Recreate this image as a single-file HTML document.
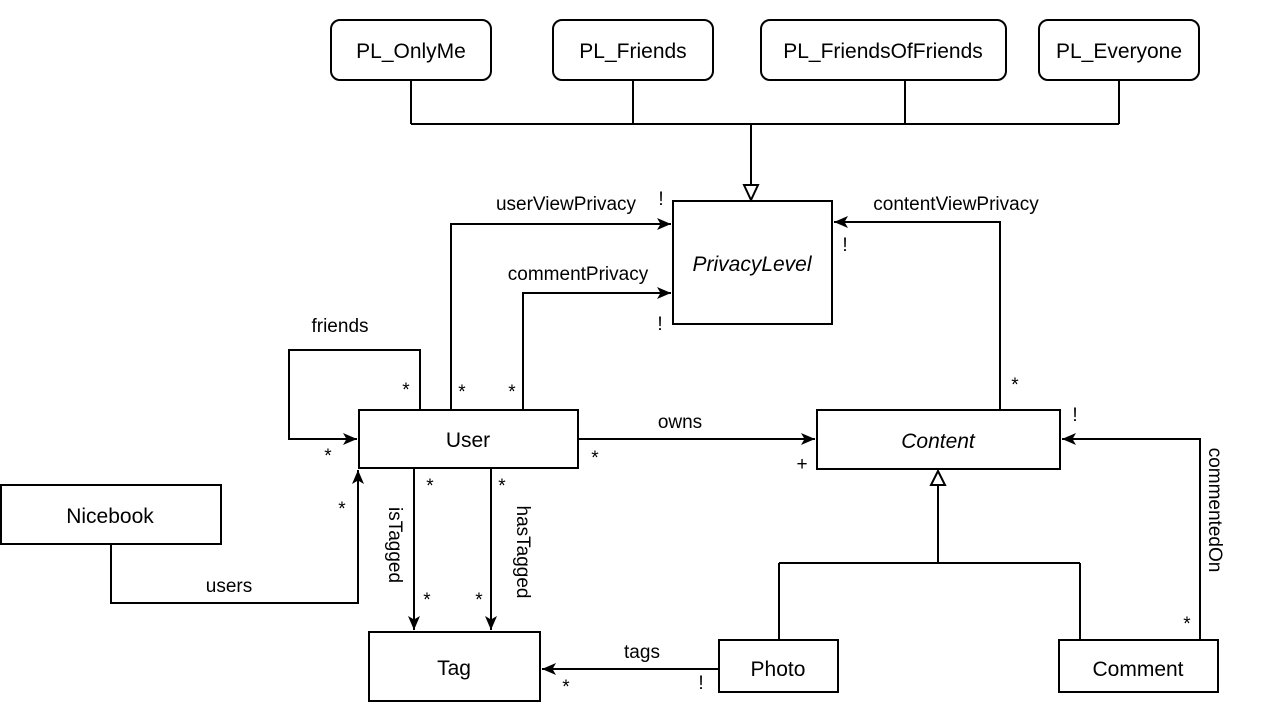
<!DOCTYPE html>
<html><head><meta charset="utf-8"><style>
html,body{margin:0;padding:0;background:#fff}
svg text{font-family:"Liberation Sans",Arial,sans-serif;fill:#000}
</style></head><body>
<svg width="1270" height="719" viewBox="0 0 1270 719" xmlns="http://www.w3.org/2000/svg">
<defs>
<marker id="a" viewBox="0 0 14 12" refX="14" refY="6" markerWidth="14" markerHeight="12" markerUnits="userSpaceOnUse" orient="auto">
<path d="M0,0 L14,6 L0,12 L3.5,6 Z" fill="#000"/></marker>
</defs>
<g fill="#fff" stroke="#000" stroke-width="2">
<rect x="331" y="20" width="160" height="60" rx="9"/>
<rect x="553" y="20" width="160" height="60" rx="9"/>
<rect x="761" y="20" width="245" height="60" rx="9"/>
<rect x="1039" y="20" width="160" height="60" rx="9"/>
<rect x="673" y="201" width="159" height="123"/>
<rect x="359" y="410" width="219" height="58"/>
<rect x="817" y="410" width="243" height="59"/>
<rect x="1" y="485" width="220" height="59"/>
<rect x="369" y="632" width="171" height="69"/>
<rect x="719" y="640" width="119" height="52"/>
<rect x="1059" y="640" width="159" height="52"/>
</g>
<g fill="none" stroke="#000" stroke-width="2">
<path d="M411,80V124M633,80V124M905,80V124M1119,80V124M411,124H1119M751,124V185"/>
<path d="M744,185H758L751,200Z" fill="#fff"/>
<path d="M451,410V224H671" marker-end="url(#a)"/>
<path d="M523,410V293H671" marker-end="url(#a)"/>
<path d="M420,410V350H289V439H357" marker-end="url(#a)"/>
<path d="M578,439H815" marker-end="url(#a)"/>
<path d="M1000,410V222H834" marker-end="url(#a)"/>
<path d="M1200,640V439H1062" marker-end="url(#a)"/>
<path d="M938,485V563M779,563H1080M779,563V640M1080,563V640"/>
<path d="M931,485H945L938,471Z" fill="#fff"/>
<path d="M719,669H542" marker-end="url(#a)"/>
<path d="M414,468V630" marker-end="url(#a)"/>
<path d="M491,468V630" marker-end="url(#a)"/>
<path d="M111,544V603H358V470" marker-end="url(#a)"/>
</g>
<g font-size="21" text-anchor="middle">
<text x="411" y="58">PL_OnlyMe</text>
<text x="633" y="58">PL_Friends</text>
<text x="883" y="58">PL_FriendsOfFriends</text>
<text x="1119" y="58">PL_Everyone</text>
<text x="752" y="271" font-style="italic">PrivacyLevel</text>
<text x="468" y="447">User</text>
<text x="938" y="448" font-style="italic">Content</text>
<text x="110" y="523">Nicebook</text>
<text x="454" y="675">Tag</text>
<text x="778" y="676">Photo</text>
<text x="1138" y="676">Comment</text>
</g>
<g font-size="19" text-anchor="middle">
<text x="566" y="210">userViewPrivacy</text>
<text x="578" y="280">commentPrivacy</text>
<text x="340" y="332">friends</text>
<text x="680" y="428">owns</text>
<text x="956" y="210">contentViewPrivacy</text>
<text x="642" y="658">tags</text>
<text x="229" y="592">users</text>
<text transform="translate(1209,510) rotate(90)">commentedOn</text>
<text transform="translate(389,545) rotate(90)">isTagged</text>
<text transform="translate(517,552) rotate(90)">hasTagged</text>
<text x="661" y="205">!</text>
<text x="660" y="330">!</text>
<text x="845" y="251">!</text>
<text x="1075" y="421">!</text>
<text x="701" y="689">!</text>
<text x="802" y="470">+</text>
<text x="462" y="398">*</text><text x="512" y="398">*</text>
<text x="406" y="396">*</text><text x="328" y="462">*</text>
<text x="595" y="464">*</text><text x="1015" y="391">*</text>
<text x="1187" y="630">*</text><text x="566" y="693">*</text>
<text x="430" y="492">*</text><text x="427" y="606">*</text>
<text x="502" y="492">*</text><text x="479" y="606">*</text>
<text x="342" y="515">*</text>
</g>
</svg>
</body></html>
